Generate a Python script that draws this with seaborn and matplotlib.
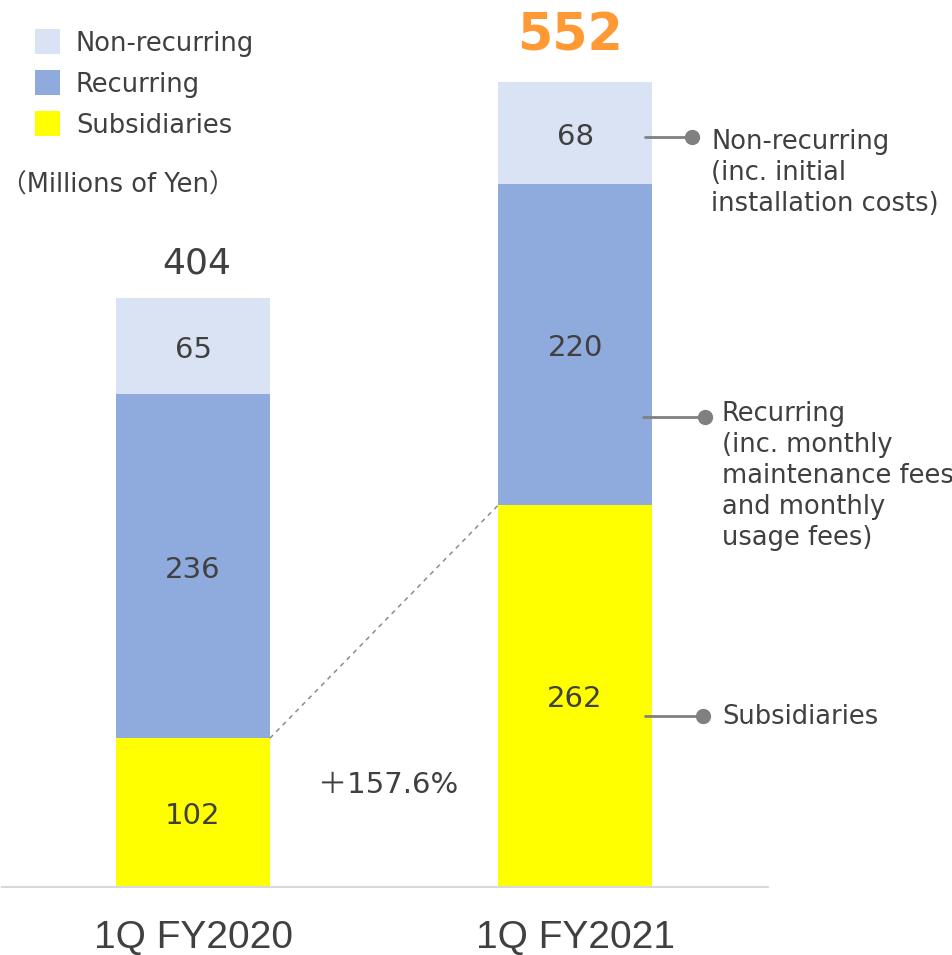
import matplotlib
matplotlib.use("Agg")
import matplotlib.pyplot as plt
from matplotlib.lines import Line2D
from matplotlib.patches import Rectangle
import seaborn as sns
import numpy as np
import pandas as pd

# ---- data ----
periods = ["1Q FY2020", "1Q FY2021"]
subsidiaries = [102, 262]
recurring = [236, 220]
non_recurring = [65, 68]
totals = [404, 552]
growth_label = "＋157.6%"
legend_labels = ["Non-recurring", "Recurring", "Subsidiaries"]
callout_labels = ["Non-recurring\n(inc. initial\ninstallation costs)",
                  "Recurring\n(inc. monthly\nmaintenance fees\nand monthly\nusage fees)",
                  "Subsidiaries"]
unit_label = "（Millions of Yen）"

# ---- style ----
C_NON = "#DAE3F3"
C_REC = "#8FAADC"
C_SUB = "#FFFF00"
C_TXT = "#404040"
C_GRAY = "#808080"
C_ORANGE = "#FF9933"
FAM = ["DejaVu Sans", "Noto Sans CJK JP"]

sns.set_theme(style="white")
plt.rcParams["font.family"] = FAM

W, H = 952, 955
fig = plt.figure(figsize=(W / 100, H / 100), dpi=100)
fx = lambda px: px / W
fy = lambda py: 1 - py / H

ax = fig.add_axes([fx(2), fy(887), fx(768) - fx(2), fy(0) - fy(887)])

df = pd.DataFrame({"period": periods, "sub": subsidiaries, "rec": recurring,
                   "non": non_recurring, "total": totals})
df["sub_rec"] = df["sub"] + df["rec"]

bw = 0.402
for col, color in [("total", C_NON), ("sub_rec", C_REC), ("sub", C_SUB)]:
    sns.barplot(data=df, x="period", y=col, color=color, saturation=1,
                width=bw, linewidth=0, ax=ax, order=periods)

ax.set_xlim(-0.5, 1.505)
ax.set_ylim(0, 887 / 1.458)
for s in ["top", "right", "left"]:
    ax.spines[s].set_visible(False)
ax.spines["bottom"].set_color("#D9D9D9")
ax.spines["bottom"].set_linewidth(1.5)
ax.set_yticks([])
ax.set_xlabel("")
ax.set_ylabel("")
ax.tick_params(axis="x", length=0, pad=24, labelsize=28, labelcolor=C_TXT)
for lab in ax.get_xticklabels():
    lab.set_fontfamily(["Liberation Sans", "DejaVu Sans"])

# segment labels
for i in range(len(periods)):
    s, r, n, t = subsidiaries[i], recurring[i], non_recurring[i], totals[i]
    for val, y in [(s, s / 2), (r, s + r / 2), (n, (s + r + t) / 2)]:
        ax.annotate(str(val), xy=(i, y), xytext=(0, -2.5), textcoords="offset points",
                    ha="center", va="center", fontsize=21, color=C_TXT)

# totals
ax.annotate(str(totals[0]), xy=(0, totals[0]), xytext=(3, 25), textcoords="offset points",
            ha="center", va="center", fontsize=26, color=C_TXT)
ax.annotate(str(totals[1]), xy=(1, totals[1]), xytext=(-4, 33), textcoords="offset points",
            ha="center", va="center", fontsize=36.5, color=C_ORANGE, fontweight="bold")

# dashed connector
ax.plot([0 + bw / 2, 1 - bw / 2], [subsidiaries[0], subsidiaries[1]],
        ls=(0, (3, 3)), color="#8C8C8C", lw=1.1)

# growth label
fig.text(fx(388), fy(785), growth_label, ha="center", va="center", fontsize=21, color=C_TXT)

# legend
for k, (lab, col) in enumerate(zip(legend_labels, [C_NON, C_REC, C_SUB])):
    cy = [42, 83, 124][k]
    fig.add_artist(Rectangle((fx(35), fy(cy + 12.5)), fx(25), fy(0) - fy(25),
                             transform=fig.transFigure, facecolor=col, edgecolor="none"))
    fig.text(fx(76), fy(cy + 2), lab, ha="left", va="center", fontsize=18.5, color=C_TXT)

fig.text(fx(1), fy(186), unit_label, ha="left", va="center", fontsize=18.5, color=C_TXT)

# callouts
callouts = [((645, 692, 137), (711, 142)),
            ((643, 705, 417), (722, 414)),
            ((645, 703, 716), (722, 717))]
for (x0, x1, yy), (tx, ty), lab in zip([c[0] for c in callouts], [c[1] for c in callouts], callout_labels):
    fig.add_artist(Line2D([fx(x0), fx(x1)], [fy(yy), fy(yy)], transform=fig.transFigure,
                          color=C_GRAY, lw=2))
    fig.add_artist(Line2D([fx(x1)], [fy(yy)], transform=fig.transFigure, marker="o",
                          markersize=10, color=C_GRAY, lw=0))
    fig.text(fx(tx), fy(ty - 13), lab, ha="left", va="top", fontsize=18.5, color=C_TXT,
             linespacing=1.245)

fig.savefig("out.png", dpi=100)
